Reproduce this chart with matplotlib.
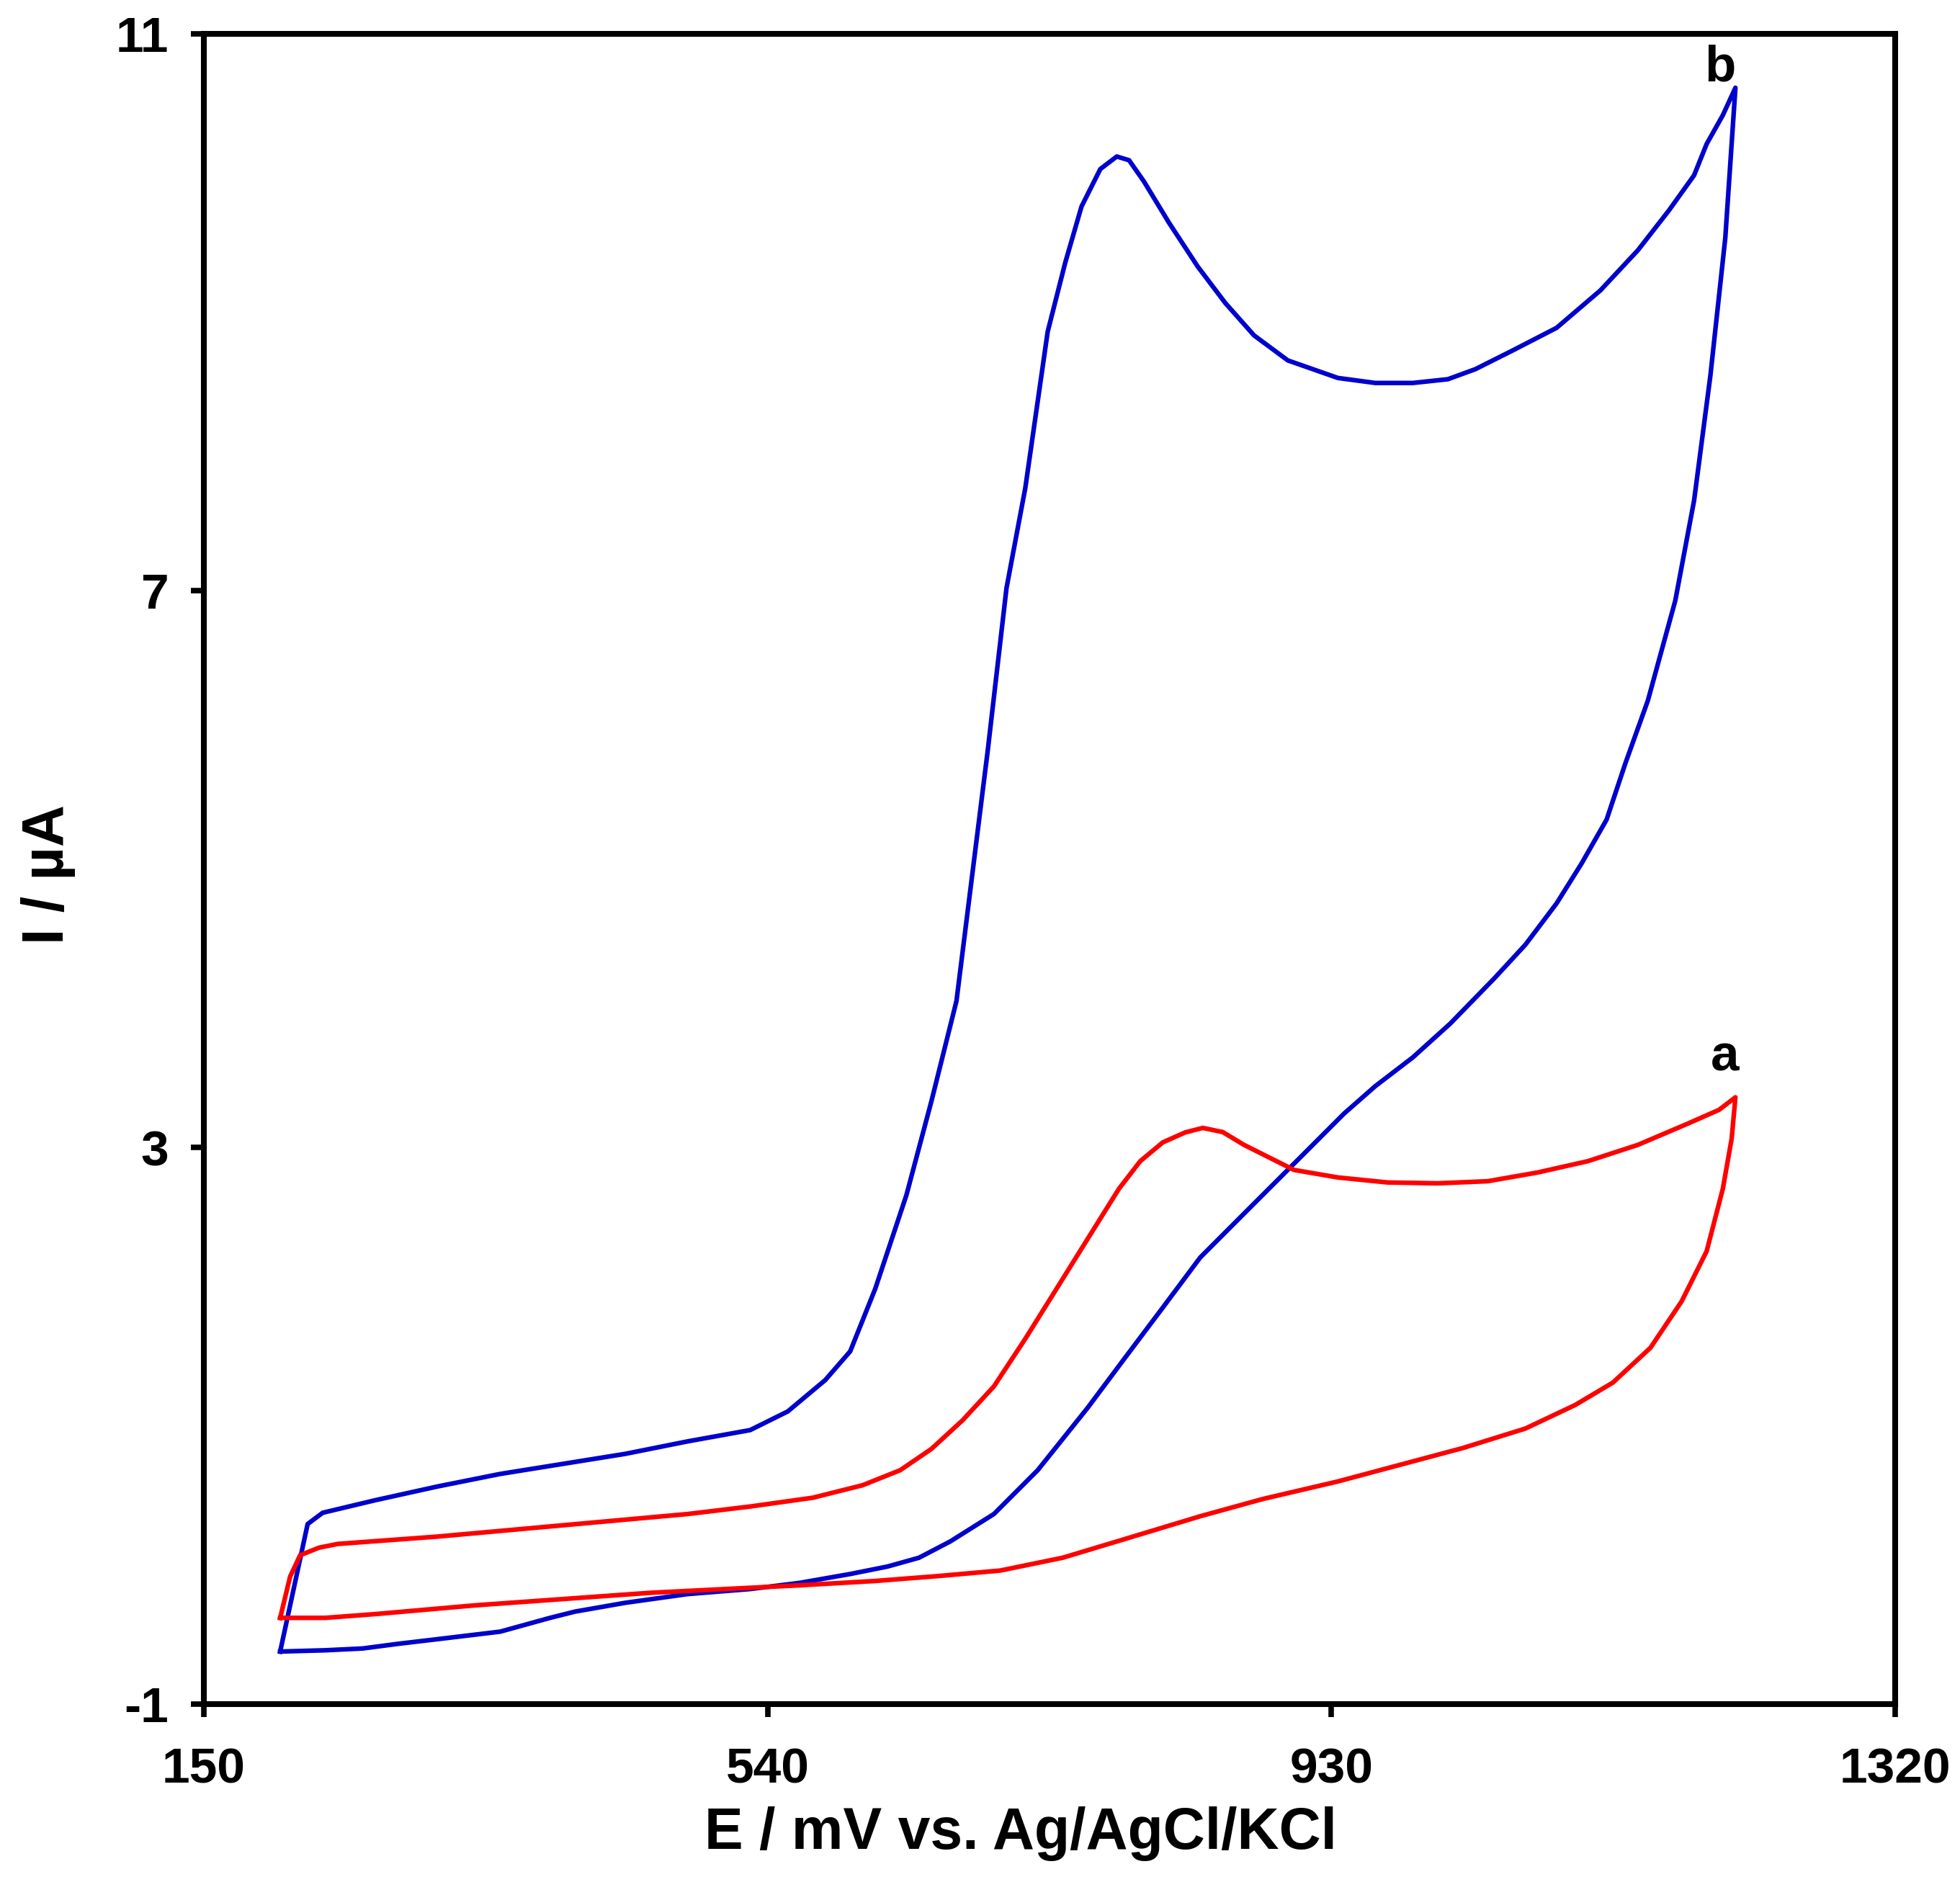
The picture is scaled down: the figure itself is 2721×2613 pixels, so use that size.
import matplotlib
matplotlib.use("Agg")
import matplotlib.pyplot as plt

# Curve b (blue): forward (anodic) scan then reverse scan
b_E = [202.8, 221.8, 232.2, 268.5, 311.7, 355.0, 398.2, 441.4, 484.7, 527.9,
       553.9, 579.8, 597.1, 614.4, 636.0, 653.3, 670.6, 692.2, 705.2, 718.2,
       733.7, 745.8, 757.1, 770.1, 781.5, 790.0, 800.3, 817.6, 837.5, 856.5,
       876.4, 899.8, 934.4, 960.3, 986.3, 1010.5, 1029.5, 1055.4, 1085.7, 1116.0,
       1141.9, 1163.5, 1180.8, 1189.5, 1200.7, 1209.4,
       1202.4, 1192.1, 1180.8, 1167.8, 1148.8, 1133.3, 1120.3, 1103.0, 1085.7,
       1064.1, 1042.5, 1012.2, 986.3, 960.3, 938.7, 908.4, 873.8, 839.2, 813.3,
       787.3, 761.4, 726.8, 696.5, 666.3, 644.7, 623.0, 597.1, 562.5, 527.9,
       484.7, 441.4, 406.8, 389.5, 355.0, 311.7, 284.0, 259.8, 233.9, 202.8]
b_I = [-0.622, 0.294, 0.375, 0.465, 0.564, 0.654, 0.726, 0.798, 0.888, 0.969,
       1.103, 1.328, 1.535, 1.984, 2.658, 3.333, 4.052, 5.849, 7.018, 7.737,
       8.861, 9.355, 9.760, 10.029, 10.119, 10.092, 9.939, 9.643, 9.328, 9.067,
       8.834, 8.654, 8.528, 8.492, 8.492, 8.519, 8.591, 8.726, 8.888, 9.157,
       9.445, 9.733, 9.984, 10.209, 10.416, 10.613,
       9.535, 8.546, 7.647, 6.928, 6.209, 5.760, 5.355, 5.040, 4.753,
       4.456, 4.213, 3.890, 3.647, 3.440, 3.243, 2.928, 2.569, 2.209, 1.849,
       1.490, 1.130, 0.681, 0.366, 0.169, 0.052, -0.011, -0.065, -0.128, -0.173,
       -0.209, -0.272, -0.335, -0.380, -0.479, -0.533, -0.567, -0.600, -0.613, -0.622]

# Curve a (red): forward scan then reverse scan
a_E = [202.8, 209.7, 216.6, 229.6, 242.5, 311.7, 398.2, 484.7, 527.9, 571.2,
       605.7, 631.7, 653.3, 674.9, 696.5, 718.2, 739.8, 761.4, 783.0, 797.7,
       813.3, 828.9, 841.0, 854.8, 869.5, 886.8, 904.1, 934.4, 968.9, 1003.5,
       1038.1, 1072.7, 1107.3, 1141.9, 1176.5, 1198.1, 1209.4,
       1206.8, 1200.7, 1189.5, 1172.2, 1150.6, 1124.6, 1098.7, 1064.1, 1020.8,
       977.6, 934.4, 882.5, 839.2, 787.3, 744.1, 700.9, 657.6, 614.4, 562.5,
       510.6, 458.7, 398.2, 337.7, 268.5, 233.9, 202.8]
a_I = [-0.380, -0.083, 0.070, 0.124, 0.151, 0.204, 0.285, 0.366, 0.420, 0.483,
       0.573, 0.681, 0.834, 1.040, 1.283, 1.625, 1.984, 2.344, 2.703, 2.901,
       3.036, 3.108, 3.140, 3.110, 3.018, 2.928, 2.838, 2.784, 2.748, 2.742,
       2.757, 2.820, 2.901, 3.018, 3.171, 3.270, 3.360,
       3.063, 2.703, 2.254, 1.894, 1.560, 1.310, 1.150, 0.980, 0.840,
       0.720, 0.600, 0.474, 0.350, 0.187, 0.052, -0.040, -0.080, -0.115, -0.146,
       -0.173, -0.200, -0.245, -0.290, -0.353, -0.380, -0.380]

x_ticks = [150, 540, 930, 1320]
y_ticks = [-1, 3, 7, 11]
x_label = "E / mV vs. Ag/AgCl/KCl"
y_label = "I / \u00b5A"

plt.rcParams['font.family'] = ['Liberation Sans', 'DejaVu Sans']
plt.rcParams['font.weight'] = 'bold'

fig = plt.figure(figsize=(27.21, 26.13), dpi=100)
ax = fig.add_axes([0.104, 0.0945, 0.863, 0.8875])

ax.plot(b_E, b_I, color='#0000CC', lw=4.6, solid_joinstyle='round')
ax.plot(a_E, a_I, color='#FF0000', lw=4.6, solid_joinstyle='round')

ax.text(1199, 10.66, 'b', ha='center', va='baseline', fontsize=51, fontweight='bold')
ax.text(1202, 3.55, 'a', ha='center', va='baseline', fontsize=51, fontweight='bold')

ax.set_xlim(150, 1320)
ax.set_ylim(-1, 11)
ax.set_xticks(x_ticks)
ax.set_yticks(y_ticks)
ax.set_xticklabels([str(v) for v in x_ticks], fontsize=50, fontweight='bold')
ax.set_yticklabels([str(v) for v in y_ticks], fontsize=50, fontweight='bold')
ax.tick_params(axis='both', direction='out', length=13, width=5.5, pad=22)
ax.tick_params(axis='x', pad=30)
for s in ax.spines.values():
    s.set_linewidth(5.8)

ax.set_xlabel(x_label, fontsize=58, fontweight='bold')
ax.set_ylabel(y_label, fontsize=58, fontweight='bold')
ax.xaxis.set_label_coords(0.483, -0.061)
ax.yaxis.set_label_coords(-0.076, 0.497)

fig.savefig('out.png', dpi=100, facecolor='white')
